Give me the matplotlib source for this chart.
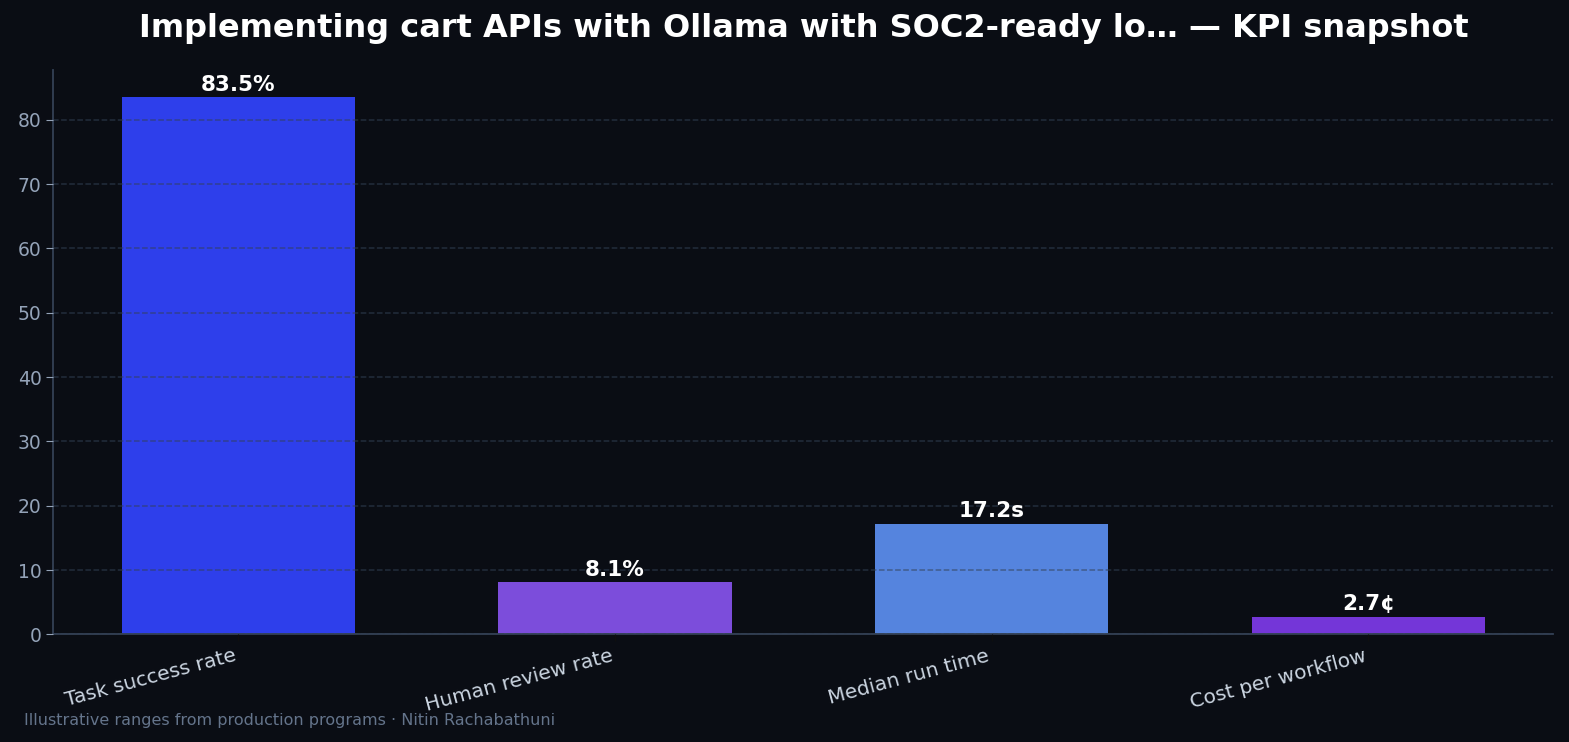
import matplotlib
matplotlib.use("Agg")
import matplotlib.pyplot as plt

# dados do grafico
categories = ["Task success rate", "Human review rate", "Median run time", "Cost per workflow"]
values = [83.5, 8.1, 17.2, 2.7]
labels = ["83.5%", "8.1%", "17.2s", "2.7¢"]
colors = ["#2e3feb", "#7c4ddb", "#5584de", "#7436d8"]

bg = "#0a0d14"
fig, ax = plt.subplots(figsize=(15.69, 7.42), dpi=100)
fig.patch.set_facecolor(bg)
ax.set_facecolor(bg)

bars = ax.bar(range(len(values)), values, width=0.62, color=colors, zorder=1)
ax.set_ylim(0, max(values) * 1.05)

# grid por cima das barras
ax.grid(axis="y", color="#334155", linestyle="--", linewidth=1.1, alpha=0.6, zorder=2)
ax.set_axisbelow(False)

for b, t in zip(bars, labels):
    ax.text(b.get_x() + b.get_width() / 2, b.get_height() + 0.4, t,
            ha="center", va="bottom", color="white", fontsize=15.5, fontweight="bold", zorder=3)

ax.set_xticks(range(len(values)))
ax.set_xticklabels(categories, rotation=15, ha="right", color="#cbd5e1", fontsize=14.5)
ax.tick_params(axis="y", colors="#94a3b8", labelsize=13.5, length=5)
ax.tick_params(axis="x", colors="#0f0f0f", labelcolor="#cbd5e1", length=5)

for s in ["top", "right"]:
    ax.spines[s].set_visible(False)
for s in ["left", "bottom"]:
    ax.spines[s].set_color("#334155")
    ax.spines[s].set_linewidth(1.3)

ax.set_title("Implementing cart APIs with Ollama with SOC2-ready lo… — KPI snapshot",
             color="white", fontsize=23, fontweight="bold", pad=24)
fig.text(0.015, 0.023, "Illustrative ranges from production programs · Nitin Rachabathuni",
         color="#64748b", fontsize=11.5)

fig.subplots_adjust(left=0.034, right=0.99, top=0.905, bottom=0.145)
fig.savefig("out.png", facecolor=bg)
